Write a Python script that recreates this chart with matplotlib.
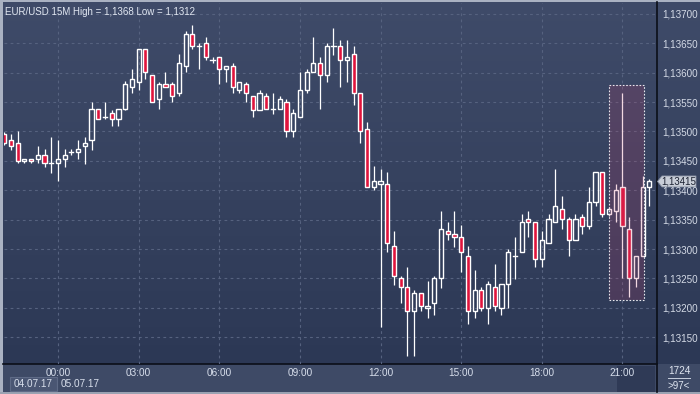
import matplotlib
matplotlib.use("Agg")
import matplotlib.pyplot as plt
import numpy as np
from matplotlib.patches import Rectangle, Polygon
from matplotlib.colors import LinearSegmentedColormap

plt.rcParams["font.family"] = ["Liberation Sans", "DejaVu Sans"]

# ---------------- data (EUR/USD 15M, 97 bars) ----------------
opens = [1.13496, 1.13485, 1.13480, 1.13449, 1.13454, 1.13454, 1.13460, 1.13446, 1.13446, 1.13454,
         1.13465, 1.13465, 1.13475, 1.13485, 1.13539, 1.13525, 1.13531, 1.13521, 1.13539, 1.13576,
         1.13585, 1.13640, 1.13596, 1.13555, 1.13580, 1.13580, 1.13565, 1.13611, 1.13665, 1.13645,
         1.13650, 1.13621, 1.13626, 1.13606, 1.13611, 1.13570, 1.13580, 1.13560, 1.13536, 1.13560,
         1.13539, 1.13539, 1.13550, 1.13500, 1.13525, 1.13570, 1.13601, 1.13616, 1.13596, 1.13645,
         1.13645, 1.13621, 1.13631, 1.13565, 1.13505, 1.13405, 1.13410, 1.13410, 1.13305, 1.13250,
         1.13235, 1.13194, 1.13225, 1.13199, 1.13209, 1.13250, 1.13330, 1.13325, 1.13320, 1.13289,
         1.13194, 1.13230, 1.13199, 1.13235, 1.13199, 1.13240, 1.13289, 1.13295, 1.13351, 1.13346,
         1.13284, 1.13310, 1.13346, 1.13369, 1.13351, 1.13315, 1.13354, 1.13340, 1.13380, 1.13431,
         1.13359, 1.13364, 1.13405, 1.13335, 1.13250, 1.13289, 1.13405]
highs = [1.13499, 1.13496, 1.13501, 1.13454, 1.13454, 1.13475, 1.13470, 1.13491, 1.13486, 1.13470,
         1.13470, 1.13486, 1.13491, 1.13550, 1.13539, 1.13550, 1.13537, 1.13539, 1.13586, 1.13606,
         1.13640, 1.13640, 1.13596, 1.13585, 1.13601, 1.13585, 1.13632, 1.13671, 1.13681, 1.13650,
         1.13660, 1.13626, 1.13626, 1.13611, 1.13616, 1.13585, 1.13585, 1.13560, 1.13570, 1.13565,
         1.13565, 1.13560, 1.13555, 1.13539, 1.13601, 1.13606, 1.13660, 1.13626, 1.13650, 1.13676,
         1.13655, 1.13655, 1.13645, 1.13565, 1.13516, 1.13441, 1.13436, 1.13431, 1.13331, 1.13255,
         1.13270, 1.13230, 1.13225, 1.13246, 1.13255, 1.13365, 1.13346, 1.13365, 1.13341, 1.13305,
         1.13264, 1.13235, 1.13246, 1.13275, 1.13240, 1.13300, 1.13320, 1.13360, 1.13365, 1.13346,
         1.13330, 1.13359, 1.13436, 1.13390, 1.13354, 1.13359, 1.13359, 1.13405, 1.13431, 1.13431,
         1.13372, 1.13410, 1.13565, 1.13354, 1.13289, 1.13424, 1.13420]
lows = [1.13477, 1.13469, 1.13446, 1.13446, 1.13446, 1.13446, 1.13440, 1.13430, 1.13415, 1.13440,
        1.13460, 1.13454, 1.13445, 1.13469, 1.13521, 1.13521, 1.13510, 1.13510, 1.13536, 1.13565,
        1.13570, 1.13590, 1.13550, 1.13539, 1.13575, 1.13550, 1.13560, 1.13601, 1.13640, 1.13606,
        1.13621, 1.13616, 1.13580, 1.13585, 1.13565, 1.13565, 1.13550, 1.13525, 1.13536, 1.13539,
        1.13530, 1.13539, 1.13490, 1.13490, 1.13525, 1.13565, 1.13601, 1.13539, 1.13585, 1.13630,
        1.13575, 1.13585, 1.13545, 1.13480, 1.13405, 1.13400, 1.13168, 1.13295, 1.13239, 1.13209,
        1.13119, 1.13119, 1.13194, 1.13183, 1.13188, 1.13234, 1.13315, 1.13304, 1.13261, 1.13173,
        1.13183, 1.13194, 1.13173, 1.13194, 1.13188, 1.13199, 1.13249, 1.13295, 1.13320, 1.13269,
        1.13269, 1.13310, 1.13346, 1.13335, 1.13289, 1.13315, 1.13325, 1.13335, 1.13374, 1.13354,
        1.13356, 1.13346, 1.13250, 1.13219, 1.13235, 1.13289, 1.13374]
closes = [1.13480, 1.13475, 1.13449, 1.13454, 1.13449, 1.13460, 1.13446, 1.13446, 1.13454, 1.13460,
          1.13465, 1.13470, 1.13480, 1.13539, 1.13521, 1.13525, 1.13521, 1.13539, 1.13580, 1.13590,
          1.13640, 1.13601, 1.13550, 1.13580, 1.13575, 1.13560, 1.13616, 1.13665, 1.13645, 1.13645,
          1.13626, 1.13621, 1.13606, 1.13611, 1.13575, 1.13585, 1.13565, 1.13536, 1.13565, 1.13539,
          1.13539, 1.13555, 1.13500, 1.13531, 1.13570, 1.13601, 1.13616, 1.13596, 1.13645, 1.13645,
          1.13621, 1.13626, 1.13565, 1.13500, 1.13405, 1.13415, 1.13415, 1.13310, 1.13255, 1.13235,
          1.13194, 1.13225, 1.13204, 1.13204, 1.13250, 1.13335, 1.13325, 1.13320, 1.13295, 1.13194,
          1.13230, 1.13199, 1.13240, 1.13204, 1.13240, 1.13295, 1.13289, 1.13346, 1.13346, 1.13284,
          1.13315, 1.13351, 1.13374, 1.13351, 1.13315, 1.13351, 1.13340, 1.13380, 1.13431, 1.13359,
          1.13369, 1.13400, 1.13340, 1.13250, 1.13289, 1.13405, 1.13415]

hour_labels = ["00:00", "03:00", "06:00", "09:00", "12:00", "15:00", "18:00", "21:00"]
hour_bar_index = [8, 20, 32, 44, 56, 68, 80, 92]
price_ticks = [1.1315, 1.1320, 1.1325, 1.1330, 1.1335, 1.1340, 1.1345,
               1.1350, 1.1355, 1.1360, 1.1365, 1.1370]
title_text = "EUR/USD 15M High = 1,1368 Low = 1,1312"
date_labels = ["04.07.17", "05.07.17"]
last_price = 1.13415
bar_count_text = "1724"
visible_text = ">97<"
sel_first, sel_last = 90.07, 95.16
sel_low, sel_high = 1.13213, 1.13579

# ---------------- figure ----------------
W, H = 700, 394
fig = plt.figure(figsize=(W / 100, H / 100), dpi=100)
fig.patch.set_facecolor("#34405e")

def fx(x):
    return x / W

def fy(y):
    return 1 - y / H

# whole-figure background axes (pixel coords)
bg = fig.add_axes([0, 0, 1, 1], zorder=0)
bg.set_xlim(0, W)
bg.set_ylim(H, 0)
bg.axis("off")
cmap = LinearSegmentedColormap.from_list("bgc", ["#3f4b69", "#36425f", "#2c3855"])
grad = np.linspace(0, 1, 256).reshape(-1, 1)
bg.imshow(grad, extent=[0, W, 364, 0], aspect="auto", cmap=cmap, zorder=0)
# bottom band
bg.add_patch(Rectangle((0, 364), W, 30, facecolor="#3e4a66", edgecolor="none", zorder=1))
# light outer border
bg.add_patch(Rectangle((0, 0), 3, H, facecolor="#aab2c2", edgecolor="none", zorder=2))
bg.add_patch(Rectangle((0, 0), W, 2, facecolor="#aab2c2", edgecolor="none", zorder=2))
bg.add_patch(Rectangle((0, H - 2), W, 2, facecolor="#9aa2b2", edgecolor="none", zorder=2))
# date box
bg.add_patch(Rectangle((10, 377), 47, 14, facecolor="#4a5673", edgecolor="#5e6a86", lw=0.8, zorder=2))
# cursor box in bottom band
bg.add_patch(Rectangle((617, 366), 38, 26, facecolor="#2d3854", edgecolor="none", alpha=0.85, zorder=5))
# separator lines
bg.plot([3, 657], [364, 364], color="#0b0f18", lw=1.2, zorder=6)
bg.plot([657, 657], [2, 392], color="#0b0f18", lw=1.2, zorder=6)
bg.plot([668, 690], [378, 378], color="#c8d0de", lw=0.7, zorder=6)

# ---------------- main price axes ----------------
ax = fig.add_axes([fx(4), fy(364), (657 - 4) / W, (364 - 3) / H], zorder=2)
ax.patch.set_alpha(0)
ax.set_xlim(-0.03, 97.14)
ax.set_ylim(1.131046, 1.137185)
for s in ax.spines.values():
    s.set_visible(False)

grid_kw = dict(color="#56627f", lw=0.8, ls=(0, (2.5, 3)), zorder=1)
for p in price_ticks:
    ax.axhline(p, **grid_kw)
for i in hour_bar_index:
    ax.axvline(i, **grid_kw)

ax.yaxis.tick_right()
ax.set_yticks(price_ticks)
ax.set_yticklabels([f"{p:.5f}".replace(".", ",") for p in price_ticks])
ax.tick_params(axis="y", length=0, pad=3.5, labelsize=7.1, labelcolor="#d4dae6")
ax.set_xticks(hour_bar_index)
ax.set_xticklabels(hour_labels)
ax.tick_params(axis="x", length=0, pad=3, labelsize=7.2, labelcolor="#d8dfec")

body_w = 0.62
dn_col = "#e0143c"
for i, (o, h, l, c) in enumerate(zip(opens, highs, lows, closes)):
    top, bot = max(o, c), min(o, c)
    ax.plot([i, i], [top, h], color="white", lw=0.9, zorder=3, solid_capstyle="butt")
    ax.plot([i, i], [l, bot], color="white", lw=0.9, zorder=3, solid_capstyle="butt")
    if c == o:
        ax.plot([i - body_w / 2, i + body_w / 2], [o, o], color="white", lw=1.0, zorder=4)
    else:
        fc = dn_col if c < o else "none"
        ax.add_patch(Rectangle((i - body_w / 2, bot), body_w, top - bot,
                               facecolor=fc, edgecolor="white", lw=1.0, zorder=4))

# selection box
ax.add_patch(Rectangle((sel_first, sel_low), sel_last - sel_first, sel_high - sel_low,
                       facecolor="#c03c6a", alpha=0.2, edgecolor="none", zorder=5))
ax.add_patch(Rectangle((sel_first, sel_low), sel_last - sel_first, sel_high - sel_low,
                       facecolor="none", edgecolor="#e8e8ee", lw=0.8, ls=(0, (1.5, 1.5)), zorder=6))

# last price tag (position from the price scale)
fig.canvas.draw()
disp_y = ax.transData.transform((0, last_price))[1]
tag_y = H - disp_y
tag = Polygon([(657.5, tag_y), (662, tag_y - 5.5), (696, tag_y - 5.5), (696, tag_y + 5.5), (662, tag_y + 5.5)],
              closed=True, facecolor="#c9ced8", edgecolor="#8a92a4", lw=0.6, zorder=8)
bg.add_patch(tag)
bg.text(661.5, tag_y, f"{last_price:.5f}".replace(".", ","), ha="left", va="center",
        fontsize=7.0, color="#1c2232", zorder=9)

# ---------------- texts ----------------
fig.text(fx(5), fy(12), title_text, fontsize=7.0, color="#e2e8f2", va="center", ha="left", zorder=10)
fig.text(fx(14), fy(384), date_labels[0], fontsize=7.2, color="#d8dfec", va="center", ha="left", zorder=10)
fig.text(fx(61), fy(384), date_labels[1], fontsize=7.2, color="#d8dfec", va="center", ha="left", zorder=10)
fig.text(fx(679), fy(371), bar_count_text, fontsize=7.2, color="#dfe5f0", va="center", ha="center", zorder=10)
fig.text(fx(679), fy(386), visible_text, fontsize=7.0, color="#dfe5f0", va="center", ha="center", zorder=10)

fig.savefig("out.png", dpi=100, facecolor=fig.get_facecolor())
